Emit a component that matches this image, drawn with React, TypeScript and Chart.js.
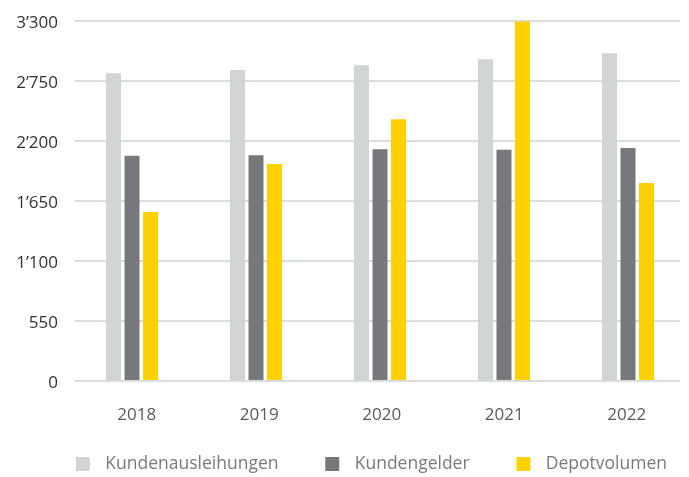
import React, { useEffect, useRef } from "react";
import { Chart, registerables } from "chart.js";

Chart.register(...registerables);

const years = ["2018", "2019", "2020", "2021", "2022"];
const seriesNames = ["Kundenausleihungen", "Kundengelder", "Depotvolumen"];
const kundenausleihungen = [2820, 2850, 2895, 2950, 3005];
const kundengelder = [2065, 2070, 2125, 2120, 2135];
const depotvolumen = [1550, 1990, 2400, 3295, 1815];
const yTicks = [0, 550, 1100, 1650, 2200, 2750, 3300];
const colors = ["#d1d4d4", "#77787b", "#ffd100"];

const formatTick = (v: number) =>
  String(v).replace(/\B(?=(\d{3})+(?!\d))/g, "\u2019");

function makeSwatch(color: string): HTMLCanvasElement {
  const c = document.createElement("canvas");
  c.width = 55;
  c.height = 14;
  const ctx = c.getContext("2d")!;
  ctx.fillStyle = color;
  ctx.fillRect(34, 0, 14, 14);
  return c;
}

export default function App() {
  const ref = useRef<HTMLCanvasElement | null>(null);

  useEffect(() => {
    if (!ref.current) return;
    const values = [kundenausleihungen, kundengelder, depotvolumen];
    const swatches = colors.map(makeSwatch);
    const indexTicks = (scale: any) => {
      scale.ticks = years.map((_, i) => ({ value: i }));
    };
    const chart = new Chart(ref.current, {
      type: "bar",
      data: {
        datasets: values.map((vals, d) => ({
          label: seriesNames[d],
          data: vals.map((v, i) => ({ x: i, y: v })),
          backgroundColor: colors[d],
          borderWidth: 0,
          categoryPercentage: 0.4476,
          barPercentage: 0.811,
        })),
      },
      options: {
        responsive: false,
        animation: false,
        layout: { padding: { left: 0, right: 9, top: 21, bottom: 0 } },
        scales: {
          x: {
            type: "linear",
            display: false,
            offset: false,
            bounds: "data",
            min: -0.4597,
            max: 4.4194,
            grid: { offset: false },
            afterBuildTicks: indexTicks,
          },
          x2: {
            type: "linear",
            position: "bottom",
            offset: false,
            bounds: "data",
            min: -0.5037,
            max: 4.4351,
            grid: { display: false, offset: false },
            border: { display: false },
            afterBuildTicks: indexTicks,
            afterFit: (scale: any) => {
              scale.height = 61.25;
              scale.paddingLeft = 0;
              scale.paddingRight = 0;
            },
            ticks: {
              autoSkip: false,
              maxRotation: 0,
              padding: 16,
              color: "#5a5a5a",
              font: { family: "'Open Sans'", size: 17 },
              callback: (v: any) => years[Number(v)] ?? "",
            },
          },
          y: {
            min: 0,
            max: 3300,
            grid: { color: "#dadddd", lineWidth: 2, drawTicks: false },
            border: { display: false },
            afterBuildTicks: (scale: any) => {
              scale.ticks = yTicks.map((v) => ({ value: v }));
            },
            afterFit: (scale: any) => {
              scale.width = 75;
              scale.paddingTop = 0;
              scale.paddingBottom = 0;
            },
            ticks: {
              padding: 17,
              labelOffset: 2,
              color: "#333333",
              font: { family: "'Open Sans'", size: 17 },
              callback: (v: any) => formatTick(Number(v)),
            },
          },
        },
        plugins: {
          tooltip: { enabled: false },
          legend: {
            position: "bottom",
            align: "end",
            maxHeight: 34.75,
            labels: {
              usePointStyle: true,
              pointStyleWidth: 54.5,
              boxHeight: 14,
              padding: 13,
              color: "#7a7a7a",
              font: { family: "'Open Sans'", size: 17.5 },
              generateLabels: (c: any) => {
                const items = Chart.defaults.plugins.legend.labels.generateLabels(c);
                return items.map((it: any, i: number) => ({
                  ...it,
                  pointStyle: swatches[i],
                  fontColor: "#7a7a7a",
                }));
              },
            },
          },
        },
      } as any,
    });
    return () => chart.destroy();
  }, []);

  return (
    <div style={{ position: "absolute", left: 0, top: 0, width: 689, height: 477, background: "#fff" }}>
      <canvas ref={ref} width={689} height={477} style={{ display: "block" }} />
    </div>
  );
}
